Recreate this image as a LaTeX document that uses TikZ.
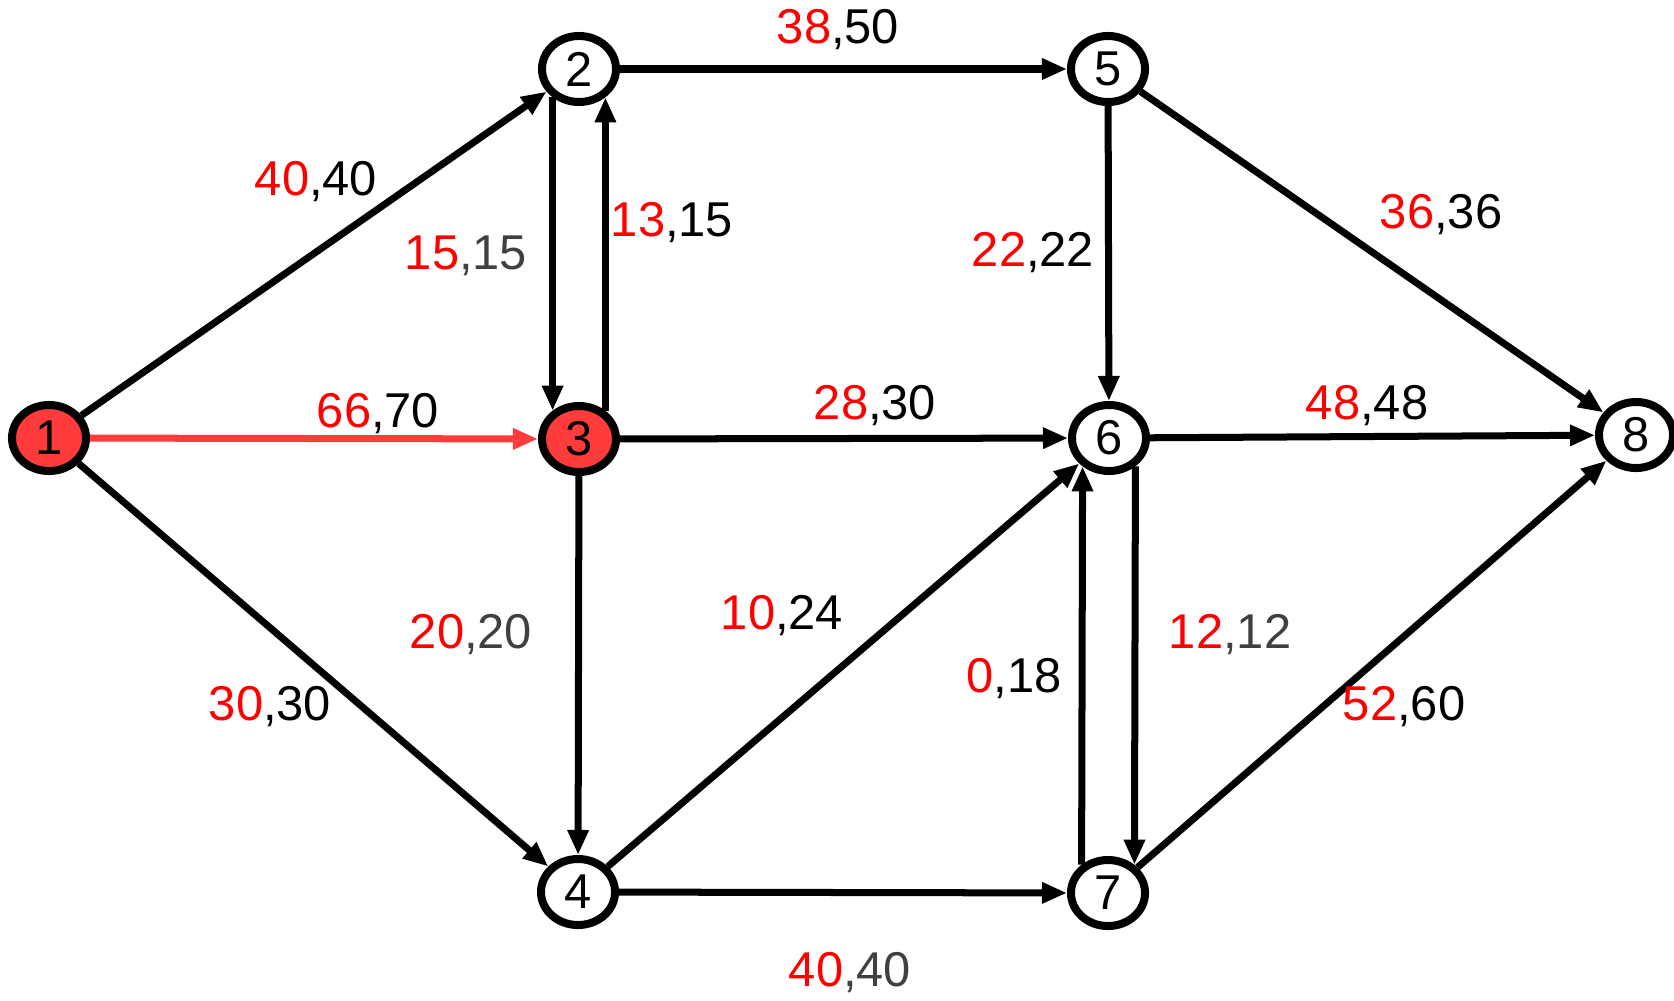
\documentclass[tikz,border=0pt]{standalone}
\usepackage{fontspec}
\setmainfont{Liberation Sans}
\usetikzlibrary{arrows.meta, shapes.geometric}
\definecolor{nodered}{RGB}{255,59,59}
\definecolor{flowgrey}{RGB}{64,64,64}
\newcommand{\flw}[3]{\textcolor{red}{#1}\textcolor{#3}{,#2}}

\begin{document}
\begin{tikzpicture}[x=0.01cm, y=-0.01cm,
	vertex/.style={shape=ellipse, draw, line width=0.08cm, fill=white, minimum width=0.74cm, minimum height=0.66cm, inner sep=0pt, font=\fontsize{13.9}{16}\selectfont},
	edge/.style={line width=0.07cm, -{Triangle[length=0.25cm, width=0.2cm]}},
	flowlbl/.style={font=\fontsize{13.9}{16}\selectfont, inner sep=0pt}]
	\useasboundingbox (0, 0) rectangle (1674, 1000);
	% Vertices:
	\node[vertex, fill=nodered] (v1) at (49, 438) {1};
	\node[vertex] (v2) at (579, 69) {2};
	\node[vertex, fill=nodered] (v3) at (579, 439) {3};
	\node[vertex] (v4) at (578, 892) {4};
	\node[vertex] (v5) at (1108, 69) {5};
	\node[vertex] (v6) at (1109, 438) {6};
	\node[vertex] (v7) at (1108, 893) {7};
	\node[vertex] (v8) at (1636, 435) {8};
	% Arcs:
	\draw[edge] (v1) -- (v2);
	\draw[edge, draw=nodered, fill=nodered] (v1) -- (v3);
	\draw[edge] (v1) -- (v4);
	\draw[edge] (v2.227) -- (v3.133);
	\draw[edge] (v3.47) -- (v2.313);
	\draw[edge] (v2) -- (v5);
	\draw[edge] (v3) -- (v6);
	\draw[edge] (v3) -- (v4);
	\draw[edge] (v4) -- (v6);
	\draw[edge] (v4) -- (v7);
	\draw[edge] (v5) -- (v6);
	\draw[edge] (v5) -- (v8);
	\draw[edge] (v6) -- (v8);
	\draw[edge] (v6.313) -- (v7.47);
	\draw[edge] (v7.133) -- (v6.227);
	\draw[edge] (v7) -- (v8);
	% Flow, capacity:
	\node[flowlbl] (l12) at (316, 182) {\flw{40}{40}{black}};
	\node[flowlbl] (l13) at (378, 414) {\flw{66}{70}{black}};
	\node[flowlbl] (l14) at (270, 707) {\flw{30}{30}{black}};
	\node[flowlbl] (l23) at (466, 256) {\flw{15}{15}{flowgrey}};
	\node[flowlbl] (l32) at (672, 223) {\flw{13}{15}{black}};
	\node[flowlbl] (l25) at (838, 30) {\flw{38}{50}{black}};
	\node[flowlbl] (l36) at (875, 406) {\flw{28}{30}{black}};
	\node[flowlbl] (l34) at (471, 635) {\flw{20}{20}{flowgrey}};
	\node[flowlbl] (l46) at (782, 616) {\flw{10}{24}{black}};
	\node[flowlbl] (l47) at (850, 973) {\flw{40}{40}{flowgrey}};
	\node[flowlbl] (l56) at (1033, 253) {\flw{22}{22}{black}};
	\node[flowlbl] (l58) at (1441, 215) {\flw{36}{36}{black}};
	\node[flowlbl] (l68) at (1367, 406) {\flw{48}{48}{black}};
	\node[flowlbl] (l76) at (1014, 679) {\flw{0}{18}{black}};
	\node[flowlbl] (l67) at (1230, 635) {\flw{12}{12}{flowgrey}};
	\node[flowlbl] (l78) at (1404, 707) {\flw{52}{60}{black}};
\end{tikzpicture}
\end{document}
